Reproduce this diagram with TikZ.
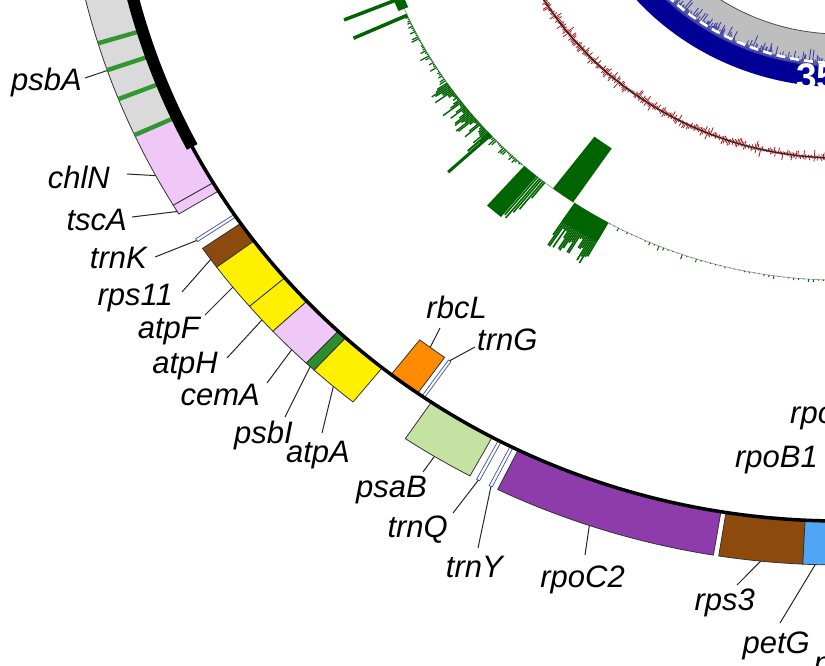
\documentclass[tikz,border=0pt]{standalone}
\usepackage{fontspec}
\setmainfont{Liberation Sans}
\definecolor{cgrey}{RGB}{218,218,218}
\definecolor{cpink}{RGB}{240,200,248}
\definecolor{cbrown}{RGB}{140,75,12}
\definecolor{cyellow}{RGB}{255,240,0}
\definecolor{cdgreen}{RGB}{45,140,45}
\definecolor{corange}{RGB}{255,140,0}
\definecolor{clgreen}{RGB}{196,226,162}
\definecolor{cpurple}{RGB}{142,60,172}
\definecolor{clblue}{RGB}{80,165,245}
\definecolor{trnblue}{RGB}{60,80,170}
\definecolor{cstripe}{RGB}{50,150,50}
\definecolor{histgreen}{RGB}{0,100,0}
\definecolor{cred}{RGB}{175,25,25}
\definecolor{cnavy}{RGB}{0,0,150}
\definecolor{cring}{RGB}{190,190,190}
\newcommand\gbox[5]{\filldraw[#5] (#1:#3) arc[start angle=#1, end angle=#2, radius=#3] -- (#2:#4) arc[start angle=#2, end angle=#1, radius=#4] -- cycle;}
\begin{document}
\begin{tikzpicture}[x=1pt,y=1pt,
  lab/.style={font=\fontsize{31}{31}\selectfont\itshape, inner sep=0pt},
  leader/.style={draw=black!85, line width=1pt},
  genebox/.style={draw=black!80, line width=0.8pt},
  trn/.style={draw=trnblue, fill=white, line width=0.7pt},
  hist/.style={draw=histgreen, line width=1.6pt},
  histfill/.style={fill=histgreen, draw=none},
  stripe/.style={fill=cstripe, draw=none}]
\useasboundingbox (0,0) rectangle (825,-665);
\clip (0,0) rectangle (825,-665);
\pgfmathsetseed{7}
\begin{scope}[shift={(840,170)}, xscale=1.055]
  % ---- inner grey / blue ring ----
  \fill[cring] (205:204) arc[start angle=205, end angle=290, radius=204] -- (290:257) arc[start angle=290, end angle=205, radius=257] -- cycle;
  \draw[black!70, line width=0.8pt] (205:204) arc[start angle=205, end angle=290, radius=204];
  \fill[cnavy] (205:236) arc[start angle=205, end angle=290, radius=236] -- (290:257) arc[start angle=290, end angle=205, radius=257] -- cycle;
  \foreach \a in {205,205.2,...,290}{
    \pgfmathsetmacro\L{236-2-rnd*rnd*16}
    \draw[cnavy!75!white, line width=0.9pt] (\a:237) -- (\a:\L);
  }
  \draw[black!60, line width=0.6pt] (205:233) arc[start angle=205, end angle=290, radius=233];
  \draw[white, line width=2.6pt, dash pattern=on 9pt off 5pt] (205:233) arc[start angle=205, end angle=290, radius=233];
  \node[font=\fontsize{37}{37}\selectfont\bfseries, text=white, anchor=base west, inner sep=0pt] (n35) at (-41.5,-259) {35};
  % ---- red ring ----
  \foreach \a in {205,205.25,...,285}{
    \pgfmathsetmacro\La{328-1-rnd*rnd*7}
    \pgfmathsetmacro\Lb{328+1+rnd*rnd*7}
    \draw[cred, line width=0.8pt] (\a:\La) -- (\a:\Lb);
  }
  \draw[black!85, line width=1.3pt] (205:328) arc[start angle=205, end angle=285, radius=328];
  % ---- green histogram ring ----
  \draw[gray!70, line width=0.8pt] (195:450) arc[start angle=195, end angle=285, radius=450];
  \draw[hist, line width=3.5pt] (202.0:450) -- (202.0:507);
  \draw[hist, line width=3.5pt] (204.3:450) -- (204.3:506);
  \gbox{201.7}{203.4}{446}{456}{histfill}
  \foreach \a in {204.6,204.85,...,214}{
    \pgfmathsetmacro\L{451+rnd*rnd*10}
    \draw[hist, line width=1.2pt] (\a:450) -- (\a:\L);
  }
  \foreach \a in {214.2,214.4,...,222.4}{
    \pgfmathsetmacro\L{452+rnd*22}
    \draw[hist, line width=1.4pt] (\a:450) -- (\a:\L);
  }
  \draw[hist, line width=3pt] (222.65:450) -- (222.65:505);
  \draw[hist, line width=2pt] (222.3:450) -- (222.3:477);
  \foreach \a in {222.9,223.15,...,228.1}{
    \pgfmathsetmacro\L{451+rnd*rnd*9}
    \draw[hist, line width=1.2pt] (\a:450) -- (\a:\L);
  }
  \gbox{228.3}{230.3}{450}{503}{histfill}
  \foreach \a/\l in {230.45/499, 230.75/501, 231.0/492, 231.3/486, 231.55/470}{
    \draw[hist] (\a:450) -- (\a:\l);
  }
  \gbox{232.8}{235.8}{385}{450}{histfill}
  \gbox{236.0}{240.8}{450}{472}{histfill}
  \foreach \a in {236.1,236.3,...,240.7}{
    \pgfmathsetmacro\L{474+rnd*26}
    \draw[hist] (\a:450) -- (\a:\L);
  }
  \foreach \a in {241,241.6,...,285}{
    \pgfmathsetmacro\L{450.5+rnd*rnd*rnd*9}
    \draw[hist, line width=1pt] (\a:450) -- (\a:\L);
  }
  % ---- gene boxes (outside) ----
  \gbox{180}{204.6}{691}{735}{genebox, fill=cgrey}
  \foreach \a in {196.7,198.9,201.3}{
    \gbox{\a}{\a+0.35}{694}{735}{stripe}
  }
  \gbox{204.6}{210.7}{691}{735}{genebox, fill=cpink}
  \gbox{204.35}{204.7}{694}{735}{stripe}
  \gbox{210.7}{211.5}{691}{735}{genebox, fill=cpink}
  \gbox{213.8}{214.05}{691}{735}{trn}
  \gbox{214.7}{216.5}{691}{735}{genebox, fill=cbrown}
  \gbox{216.5}{220.4}{691}{735}{genebox, fill=cyellow}
  \gbox{220.4}{223.0}{691}{735}{genebox, fill=cyellow}
  \gbox{223.0}{226.5}{691}{735}{genebox, fill=cpink}
  \gbox{226.5}{227.3}{691}{735}{genebox, fill=cdgreen}
  \gbox{227.3}{231.1}{691}{735}{genebox, fill=cyellow}
  \gbox{235.9}{241.5}{691}{735}{genebox, fill=clgreen}
  \gbox{242.05}{242.3}{691}{735}{trn}
  \gbox{243.1}{243.35}{691}{735}{trn}
  \gbox{243.8}{260.6}{691}{735}{genebox, fill=cpurple}
  \gbox{261.0}{267.25}{691}{735}{genebox, fill=cbrown}
  \gbox{267.25}{271}{691}{735}{genebox, fill=clblue}
  % ---- gene boxes (inside) ----
  \gbox{232.0}{234.6}{647}{691}{genebox, fill=corange}
  \gbox{235.0}{235.25}{647}{691}{trn}
  % ---- main circle and IR band ----
  \draw[line width=3.5pt] (180:691) arc[start angle=180, end angle=280, radius=691];
  \draw[line width=12pt] (180:691) arc[start angle=180, end angle=207.3, radius=691];
  % ---- gene-side ends of leaders ----
  \coordinate (g-psbA) at (199.1:735);
  \coordinate (g-chlN) at (208.05:735);
  \coordinate (g-tscA) at (211.27:735);
  \coordinate (g-trnK) at (213.95:735);
  \coordinate (g-rps11) at (215.75:735);
  \coordinate (g-atpF) at (218.46:735);
  \coordinate (g-atpH) at (221.8:735);
  \coordinate (g-cemA) at (225.0:735);
  \coordinate (g-psbI) at (226.9:735);
  \coordinate (g-atpA) at (229.2:735);
  \coordinate (g-psaB) at (238.46:735);
  \coordinate (g-trnQ) at (242.2:735);
  \coordinate (g-trnY) at (243.25:735);
  \coordinate (g-rpoC2) at (251.14:735);
  \coordinate (g-rps3) at (264.13:735);
  \coordinate (g-petG) at (268.17:735);
  \coordinate (g-rbcL) at (233.1:647);
  \coordinate (g-trnG) at (235.12:647);
\end{scope}
% ---- labels ----
\node[lab, anchor=base east] (n-psbA) at (82,-90) {psbA};
\node[lab, anchor=base east] (n-chlN) at (110,-188) {chlN};
\node[lab, anchor=base east] (n-tscA) at (127,-230) {tscA};
\node[lab, anchor=base east] (n-trnK) at (147,-268) {trnK};
\node[lab, anchor=base east] (n-rps11) at (173,-305) {rps11};
\node[lab, anchor=base east] (n-atpF) at (200,-338) {atpF};
\node[lab, anchor=base east] (n-atpH) at (218,-373) {atpH};
\node[lab, anchor=base east] (n-cemA) at (260,-405) {cemA};
\node[lab, anchor=base east] (n-psbI) at (293,-443) {psbI};
\node[lab, anchor=base east] (n-atpA) at (350,-462) {atpA};
\node[lab, anchor=base east] (n-psaB) at (427,-497) {psaB};
\node[lab, anchor=base east] (n-trnQ) at (448,-537) {trnQ};
\node[lab, anchor=base east] (n-trnY) at (503,-577) {trnY};
\node[lab, anchor=base east] (n-rpoC2) at (625,-587) {rpoC2};
\node[lab, anchor=base east] (n-rps3) at (755,-610) {rps3};
\node[lab, anchor=base east] (n-petG) at (810,-653) {petG};
\node[lab, anchor=base east] (n-rbcL) at (487,-318) {rbcL};
\node[lab, anchor=base west] (n-trnG) at (477,-350) {trnG};
\node[lab, anchor=base east] (n-rpoB1) at (818,-467) {rpoB1};
\node[lab, anchor=base west] (n-rpoB2) at (790,-423) {rpoB2};
\node[lab, anchor=base west] (n-petN) at (814,-673) {petN};
% ---- label-side ends of leaders ----
\coordinate (l-psbA) at (85,-78);
\coordinate (l-chlN) at (127,-174);
\coordinate (l-tscA) at (132,-217);
\coordinate (l-trnK) at (155,-257);
\coordinate (l-rps11) at (182,-292);
\coordinate (l-atpF) at (205,-315);
\coordinate (l-atpH) at (227,-358);
\coordinate (l-cemA) at (267,-383);
\coordinate (l-psbI) at (285,-417);
\coordinate (l-atpA) at (322,-433);
\coordinate (l-psaB) at (423,-472);
\coordinate (l-trnQ) at (453,-513);
\coordinate (l-trnY) at (478,-548);
\coordinate (l-rpoC2) at (585,-555);
\coordinate (l-rps3) at (737,-585);
\coordinate (l-petG) at (780,-623);
\coordinate (l-rbcL) at (440,-328);
\coordinate (l-trnG) at (475,-347);
\foreach \g in {psbA,chlN,tscA,trnK,rps11,atpF,atpH,cemA,psbI,atpA,psaB,trnQ,trnY,rpoC2,rps3,petG,rbcL,trnG}{
  \draw[leader] (l-\g) -- (g-\g);
}
\end{tikzpicture}
\end{document}
